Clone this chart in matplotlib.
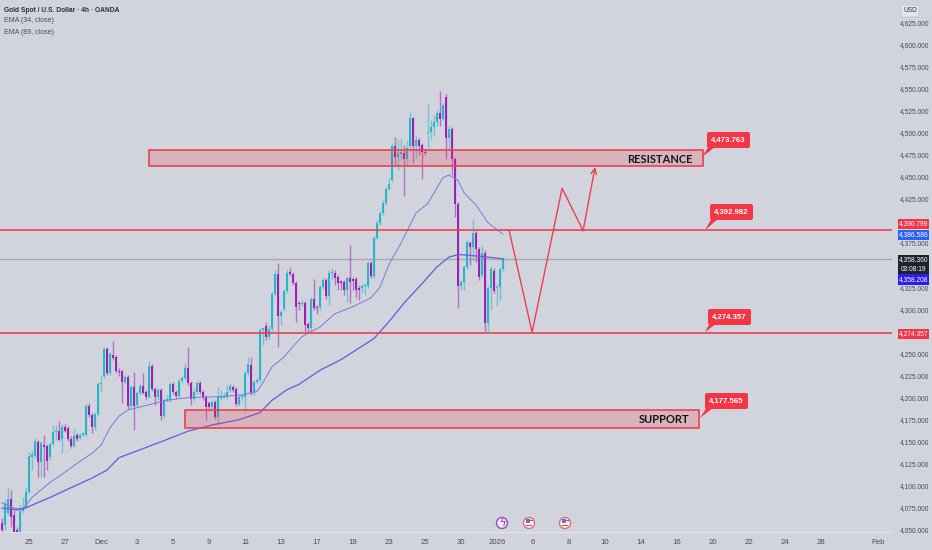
import matplotlib
matplotlib.use('Agg')
import matplotlib.pyplot as plt
from matplotlib.patches import Rectangle, FancyBboxPatch, Polygon, Circle

plt.rcParams['font.family'] = ['Liberation Sans', 'DejaVu Sans']

# 4h candles, one value per bar
opens = [4059, 4057, 4070, 4086, 4068, 4051, 4049, 4073, 4077, 4094, 4134, 4135, 4151, 4128, 4147, 4146, 4134, 4148, 4162, 4163, 4154,
         4168, 4167, 4154, 4146, 4159, 4155, 4159, 4159, 4192, 4181, 4168, 4182, 4216, 4225, 4256, 4229, 4249, 4247, 4231, 4231, 4219,
         4224, 4192, 4213, 4193, 4206, 4214, 4207, 4202, 4237, 4211, 4202, 4210, 4180, 4198, 4198, 4216, 4207, 4203, 4220, 4223, 4235,
         4218, 4199, 4207, 4218, 4207, 4202, 4195, 4190, 4196, 4179, 4201, 4201, 4202, 4210, 4213, 4211, 4194, 4202, 4202, 4229, 4238,
         4206, 4219, 4221, 4278, 4282, 4270, 4279, 4318, 4341, 4293, 4301, 4322, 4343, 4341, 4331, 4308, 4307, 4308, 4284, 4280, 4313,
         4304, 4304, 4326, 4334, 4316, 4342, 4342, 4337, 4332, 4332, 4323, 4336, 4335, 4335, 4325, 4325, 4327, 4327, 4353, 4339, 4382,
         4399, 4410, 4421, 4437, 4447, 4486, 4473, 4477, 4478, 4471, 4486, 4517, 4486, 4493, 4487, 4479, 4500, 4502, 4507, 4513, 4523,
         4516, 4541, 4495, 4505, 4471, 4420, 4327, 4332, 4349, 4376, 4372, 4387, 4369, 4340, 4365, 4285, 4325, 4344, 4325, 4326, 4347]
highs = [4065, 4085, 4100, 4096, 4074, 4055, 4079, 4088, 4100, 4139, 4142, 4155, 4153, 4152, 4159, 4148, 4151, 4170, 4170, 4175, 4171,
         4171, 4169, 4158, 4167, 4161, 4161, 4162, 4194, 4195, 4184, 4185, 4219, 4227, 4258, 4258, 4253, 4265, 4249, 4234, 4232, 4227,
         4227, 4215, 4230, 4208, 4218, 4229, 4210, 4242, 4239, 4213, 4212, 4212, 4201, 4204, 4219, 4219, 4210, 4223, 4225, 4240, 4258,
         4220, 4212, 4220, 4220, 4210, 4204, 4197, 4198, 4198, 4213, 4210, 4207, 4215, 4218, 4215, 4213, 4204, 4205, 4231, 4247, 4247,
         4221, 4223, 4280, 4281, 4287, 4283, 4321, 4345, 4353, 4300, 4324, 4345, 4349, 4343, 4333, 4310, 4311, 4310, 4287, 4315, 4335,
         4306, 4328, 4338, 4336, 4345, 4348, 4345, 4340, 4334, 4334, 4339, 4374, 4338, 4338, 4328, 4330, 4331, 4356, 4356, 4384, 4402,
         4412, 4425, 4439, 4450, 4489, 4496, 4493, 4495, 4487, 4493, 4524, 4519, 4498, 4495, 4489, 4481, 4534, 4515, 4521, 4527, 4548,
         4534, 4545, 4510, 4507, 4473, 4422, 4334, 4351, 4379, 4378, 4403, 4390, 4371, 4374, 4368, 4327, 4350, 4348, 4330, 4349, 4360]
lows = [4044, 4051, 4068, 4055, 4040, 4028, 4042, 4070, 4076, 4092, 4119, 4133, 4111, 4111, 4111, 4119, 4130, 4146, 4153, 4152, 4138,
        4162, 4152, 4144, 4145, 4152, 4153, 4158, 4158, 4179, 4161, 4164, 4180, 4207, 4223, 4227, 4227, 4244, 4229, 4225, 4195, 4216,
        4188, 4189, 4164, 4190, 4204, 4205, 4198, 4201, 4208, 4193, 4198, 4176, 4178, 4196, 4196, 4205, 4201, 4201, 4218, 4221, 4215,
        4193, 4197, 4205, 4205, 4198, 4176, 4188, 4188, 4177, 4170, 4198, 4201, 4199, 4207, 4207, 4192, 4192, 4198, 4184, 4227, 4204,
        4204, 4216, 4219, 4261, 4266, 4267, 4276, 4316, 4258, 4283, 4299, 4319, 4339, 4328, 4287, 4300, 4305, 4275, 4274, 4274, 4300,
        4296, 4300, 4324, 4313, 4306, 4334, 4328, 4323, 4323, 4317, 4309, 4308, 4323, 4314, 4311, 4319, 4317, 4325, 4336, 4336, 4379,
        4396, 4408, 4419, 4436, 4445, 4464, 4459, 4470, 4429, 4464, 4483, 4467, 4472, 4476, 4448, 4476, 4484, 4493, 4498, 4508, 4509,
        4515, 4471, 4481, 4453, 4405, 4302, 4323, 4323, 4347, 4351, 4357, 4354, 4334, 4338, 4275, 4275, 4300, 4319, 4305, 4311, 4344]
closes = [4051, 4081, 4086, 4066, 4049, 4034, 4073, 4077, 4094, 4135, 4137, 4152, 4128, 4150, 4145, 4129, 4148, 4162, 4163, 4153, 4168,
          4163, 4154, 4146, 4158, 4154, 4159, 4160, 4192, 4181, 4168, 4182, 4216, 4218, 4256, 4229, 4250, 4246, 4231, 4230, 4219, 4224,
          4192, 4213, 4192, 4206, 4214, 4206, 4202, 4237, 4211, 4202, 4210, 4180, 4198, 4199, 4216, 4207, 4203, 4220, 4223, 4235, 4218,
          4199, 4207, 4218, 4207, 4202, 4190, 4190, 4196, 4179, 4203, 4203, 4202, 4207, 4214, 4210, 4194, 4202, 4203, 4229, 4239, 4206,
          4219, 4221, 4278, 4279, 4270, 4279, 4318, 4341, 4293, 4298, 4322, 4342, 4341, 4331, 4304, 4307, 4308, 4283, 4280, 4313, 4302,
          4302, 4326, 4334, 4316, 4342, 4343, 4336, 4331, 4331, 4323, 4336, 4332, 4333, 4323, 4323, 4327, 4328, 4353, 4339, 4382, 4399,
          4410, 4421, 4437, 4443, 4486, 4473, 4478, 4478, 4471, 4484, 4517, 4486, 4493, 4486, 4479, 4478, 4502, 4507, 4513, 4523, 4516,
          4532, 4495, 4505, 4471, 4420, 4327, 4332, 4349, 4377, 4372, 4387, 4369, 4338, 4365, 4285, 4325, 4347, 4322, 4326, 4347, 4358]

# EMA samples (bar number, price)
ema34_bars = [0, 4, 7, 10, 16, 22, 26, 30, 33, 36, 39, 42, 49, 55, 62, 72, 80, 85, 87, 90, 94, 97, 100, 106, 111, 117, 123, 126, 129,
              133, 138, 142, 147, 149, 152, 154, 158, 162, 167]
ema34_vals = [4082, 4076, 4075, 4088, 4105, 4119, 4129, 4138, 4147, 4167, 4180, 4187, 4193, 4198, 4201, 4202, 4204, 4208, 4218, 4236,
              4247, 4259, 4270, 4281, 4296, 4304, 4314, 4326, 4352, 4376, 4410, 4421, 4450, 4453, 4447, 4433, 4419, 4399, 4386]
ema89_bars = [0, 5, 7, 16, 30, 35, 39, 46, 53, 62, 70, 79, 86, 90, 95, 99, 106, 113, 124, 129, 134, 140, 145, 149, 152, 156, 162, 167]
ema89_vals = [4076, 4074, 4075, 4088, 4110, 4119, 4133, 4142, 4151, 4163, 4170, 4176, 4184, 4198, 4210, 4216, 4232, 4244, 4268, 4287,
              4308, 4330, 4349, 4360, 4363, 4362, 4360, 4358]

# bottom axis
tick_bars = [9, 21, 33, 45, 57, 69, 81, 93, 105, 117, 129, 141, 153, 165, 177, 189, 201, 213, 225, 237, 249, 261, 273, 292]
tick_labels = ['25', '27', 'Dec', '3', '5', '9', '11', '13', '17', '19', '23', '25', '30', '2026', '6', '8', '10', '14', '16', '20',
               '22', '24', '28', 'Feb']
price_ticks = [4050, 4075, 4100, 4125, 4150, 4175, 4200, 4225, 4250, 4300, 4325, 4375, 4425, 4450, 4475, 4500, 4525, 4550, 4575, 4600,
               4625]

# drawn levels and the projected path
support_level = 4274.357
resistance_level = 4390.799
last_price = 4358.36
resistance_zone = (4463, 4481)
support_zone = (4167, 4187)
path_bars = [169, 176.7, 186.7, 193.7, 197.7]
path_vals = [4391, 4275, 4438, 4390, 4462]

BG = '#d1d4dc'
UP = '#27b5c9'
DOWN = '#9b22b2'
RED = '#e9414d'
LABEL_RED = '#f23645'
TEXT = '#4a4d57'

fig = plt.figure(figsize=(9.32, 5.5), dpi=100, facecolor=BG)
ax = fig.add_axes([0, 18 / 550, 892 / 932, 532 / 550], facecolor=BG)
ax.set_xlim(-0.67, 296.67)
ax.set_ylim(4048.9, 4651.1)

# candles
for i in range(len(opens)):
    color = UP if closes[i] >= opens[i] else DOWN
    ax.vlines(i, lows[i], highs[i], color=color, linewidth=1, alpha=0.55, zorder=2)
    ax.bar(i, max(abs(closes[i] - opens[i]), 1.5), width=0.85, bottom=min(opens[i], closes[i]), color=color, linewidth=0, zorder=3)

ax.plot(ema34_bars, ema34_vals, color='#7a78e0', linewidth=0.7, zorder=4)
ax.plot(ema89_bars, ema89_vals, color='#6a5fdc', linewidth=0.95, zorder=4)

# levels
ax.axhline(last_price, color='#a9abb3', linewidth=1, zorder=1)
ax.axhline(resistance_level, color=RED, linewidth=1.2, zorder=5)
ax.axhline(support_level, color=RED, linewidth=1.2, zorder=5)

# zones
for zone, left, right, name, name_x in [(resistance_zone, 49, 233.7, 'RESISTANCE', 230.3),
                                         (support_zone, 61, 232.3, 'SUPPORT', 229)]:
    ax.add_patch(Rectangle((left, zone[0]), right - left, zone[1] - zone[0], facecolor='#f23645', alpha=0.2, linewidth=0, zorder=5))
    ax.add_patch(Rectangle((left, zone[0]), right - left, zone[1] - zone[0], fill=False, edgecolor=RED, linewidth=1.2, zorder=5))
    ax.text(name_x, (zone[0] + zone[1]) / 2 - 1, name, ha='right', va='center', fontsize=8, fontweight='bold',
            family=['Lato', 'DejaVu Sans'], color='#15161a', zorder=6)

# projected move
ax.plot(path_bars[:-1], path_vals[:-1], color=RED, linewidth=1, zorder=5)
ax.annotate('', xy=(path_bars[-1], path_vals[-1]), xytext=(path_bars[-2], path_vals[-2]),
            arrowprops=dict(arrowstyle='->', color=RED, linewidth=1, shrinkA=0, shrinkB=0, mutation_scale=10), zorder=5)

ax.set_xticks(tick_bars)
ax.set_xticklabels(tick_labels, fontsize=5.6, color=TEXT)
ax.tick_params(axis='x', length=0, pad=5)
ax.set_yticks([])
for side in ['top', 'left', 'right']:
    ax.spines[side].set_visible(False)
ax.spines['bottom'].set_color('#e0e3eb')
ax.spines['bottom'].set_linewidth(1)

# second axes in picture pixels, for the price scale labels, callouts and icons
over = fig.add_axes([0, 0, 1, 1], facecolor='none')
over.set_xlim(0, 932)
over.set_ylim(550, 0)
over.axis('off')


def price_y(price):
    return 531 - (price - 4050) / 1.132


for p in price_ticks:
    over.text(915, price_y(p), f'{p:,.3f}', ha='center', va='center', fontsize=4.8, color=TEXT)

# price scale tags
for top, bottom, color, lines in [(219, 229, LABEL_RED, ['4,390.799']),
                                  (230, 240, '#2962ff', ['4,386.586']),
                                  (255, 274, '#1e222d', ['4,358.360', '03:08:19']),
                                  (274, 285, '#2a1df0', ['4,358.208']),
                                  (329, 339, LABEL_RED, ['4,274.357'])]:
    over.add_patch(Rectangle((898, top), 31, bottom - top, facecolor=color, linewidth=0))
    step = (bottom - top) / len(lines)
    for n, line in enumerate(lines):
        over.text(913.5, top + step * (n + 0.5), line, ha='center', va='center', fontsize=4.8, color='white')

# callouts
for left, top, tip_x, tip_y, label in [(707, 132, 702, 157, '4,473.763'),
                                       (710, 204, 705, 230, '4,392.982'),
                                       (708, 309, 705, 332, '4,274.357'),
                                       (705, 393, 700, 418, '4,177.565')]:
    over.add_patch(FancyBboxPatch((left + 1, top + 1), 41, 14, boxstyle='round,pad=1,rounding_size=2', facecolor=LABEL_RED, linewidth=0))
    over.add_patch(Polygon([(left + 2, top + 14), (left + 8, top + 15), (tip_x, tip_y)], facecolor=LABEL_RED, linewidth=0))
    over.text(left + 21.5, top + 8, label, ha='center', va='center', fontsize=5.6, fontweight='bold', color='white')

# chart title and study names
over.text(4, 10, 'Gold Spot / U.S. Dollar · 4h · OANDA', ha='left', va='center', fontsize=4.8, fontweight='bold', color='#2a2e39')
over.text(4, 21, 'EMA (34, close)', ha='left', va='center', fontsize=5, color=TEXT)
over.text(4, 32, 'EMA (89, close)', ha='left', va='center', fontsize=5, color=TEXT)

over.add_patch(FancyBboxPatch((902, 6), 16, 10, boxstyle='round,pad=1,rounding_size=2', facecolor='#e4e6eb', edgecolor='#c3c6cf', linewidth=0.6))
over.text(910, 11, 'USD', ha='center', va='center', fontsize=4.8, color='#2a2e39')

# event icons on the time scale
over.add_patch(Circle((502, 523), 5.5, facecolor='#eceef2', edgecolor='#a845c8', linewidth=1))
over.text(502, 523, 'ϟ', ha='center', va='center', fontsize=7, color='#8e24aa', family=['DejaVu Sans'])
for cx in [529, 565]:
    over.add_patch(Circle((cx, 523), 5.5, facecolor='#f4f4f6', edgecolor='#ea6a72', linewidth=1))
    over.add_patch(Rectangle((cx - 3.5, 518.5), 4.5, 4.5, facecolor='#4a7fe0', linewidth=0))
    over.add_patch(Rectangle((cx - 3, 525), 6, 1.4, facecolor='#e9414d', linewidth=0))
    over.add_patch(Rectangle((cx + 1, 520), 3, 1.4, facecolor='#e9414d', linewidth=0))

fig.savefig('out.png', dpi=100, facecolor=BG)
